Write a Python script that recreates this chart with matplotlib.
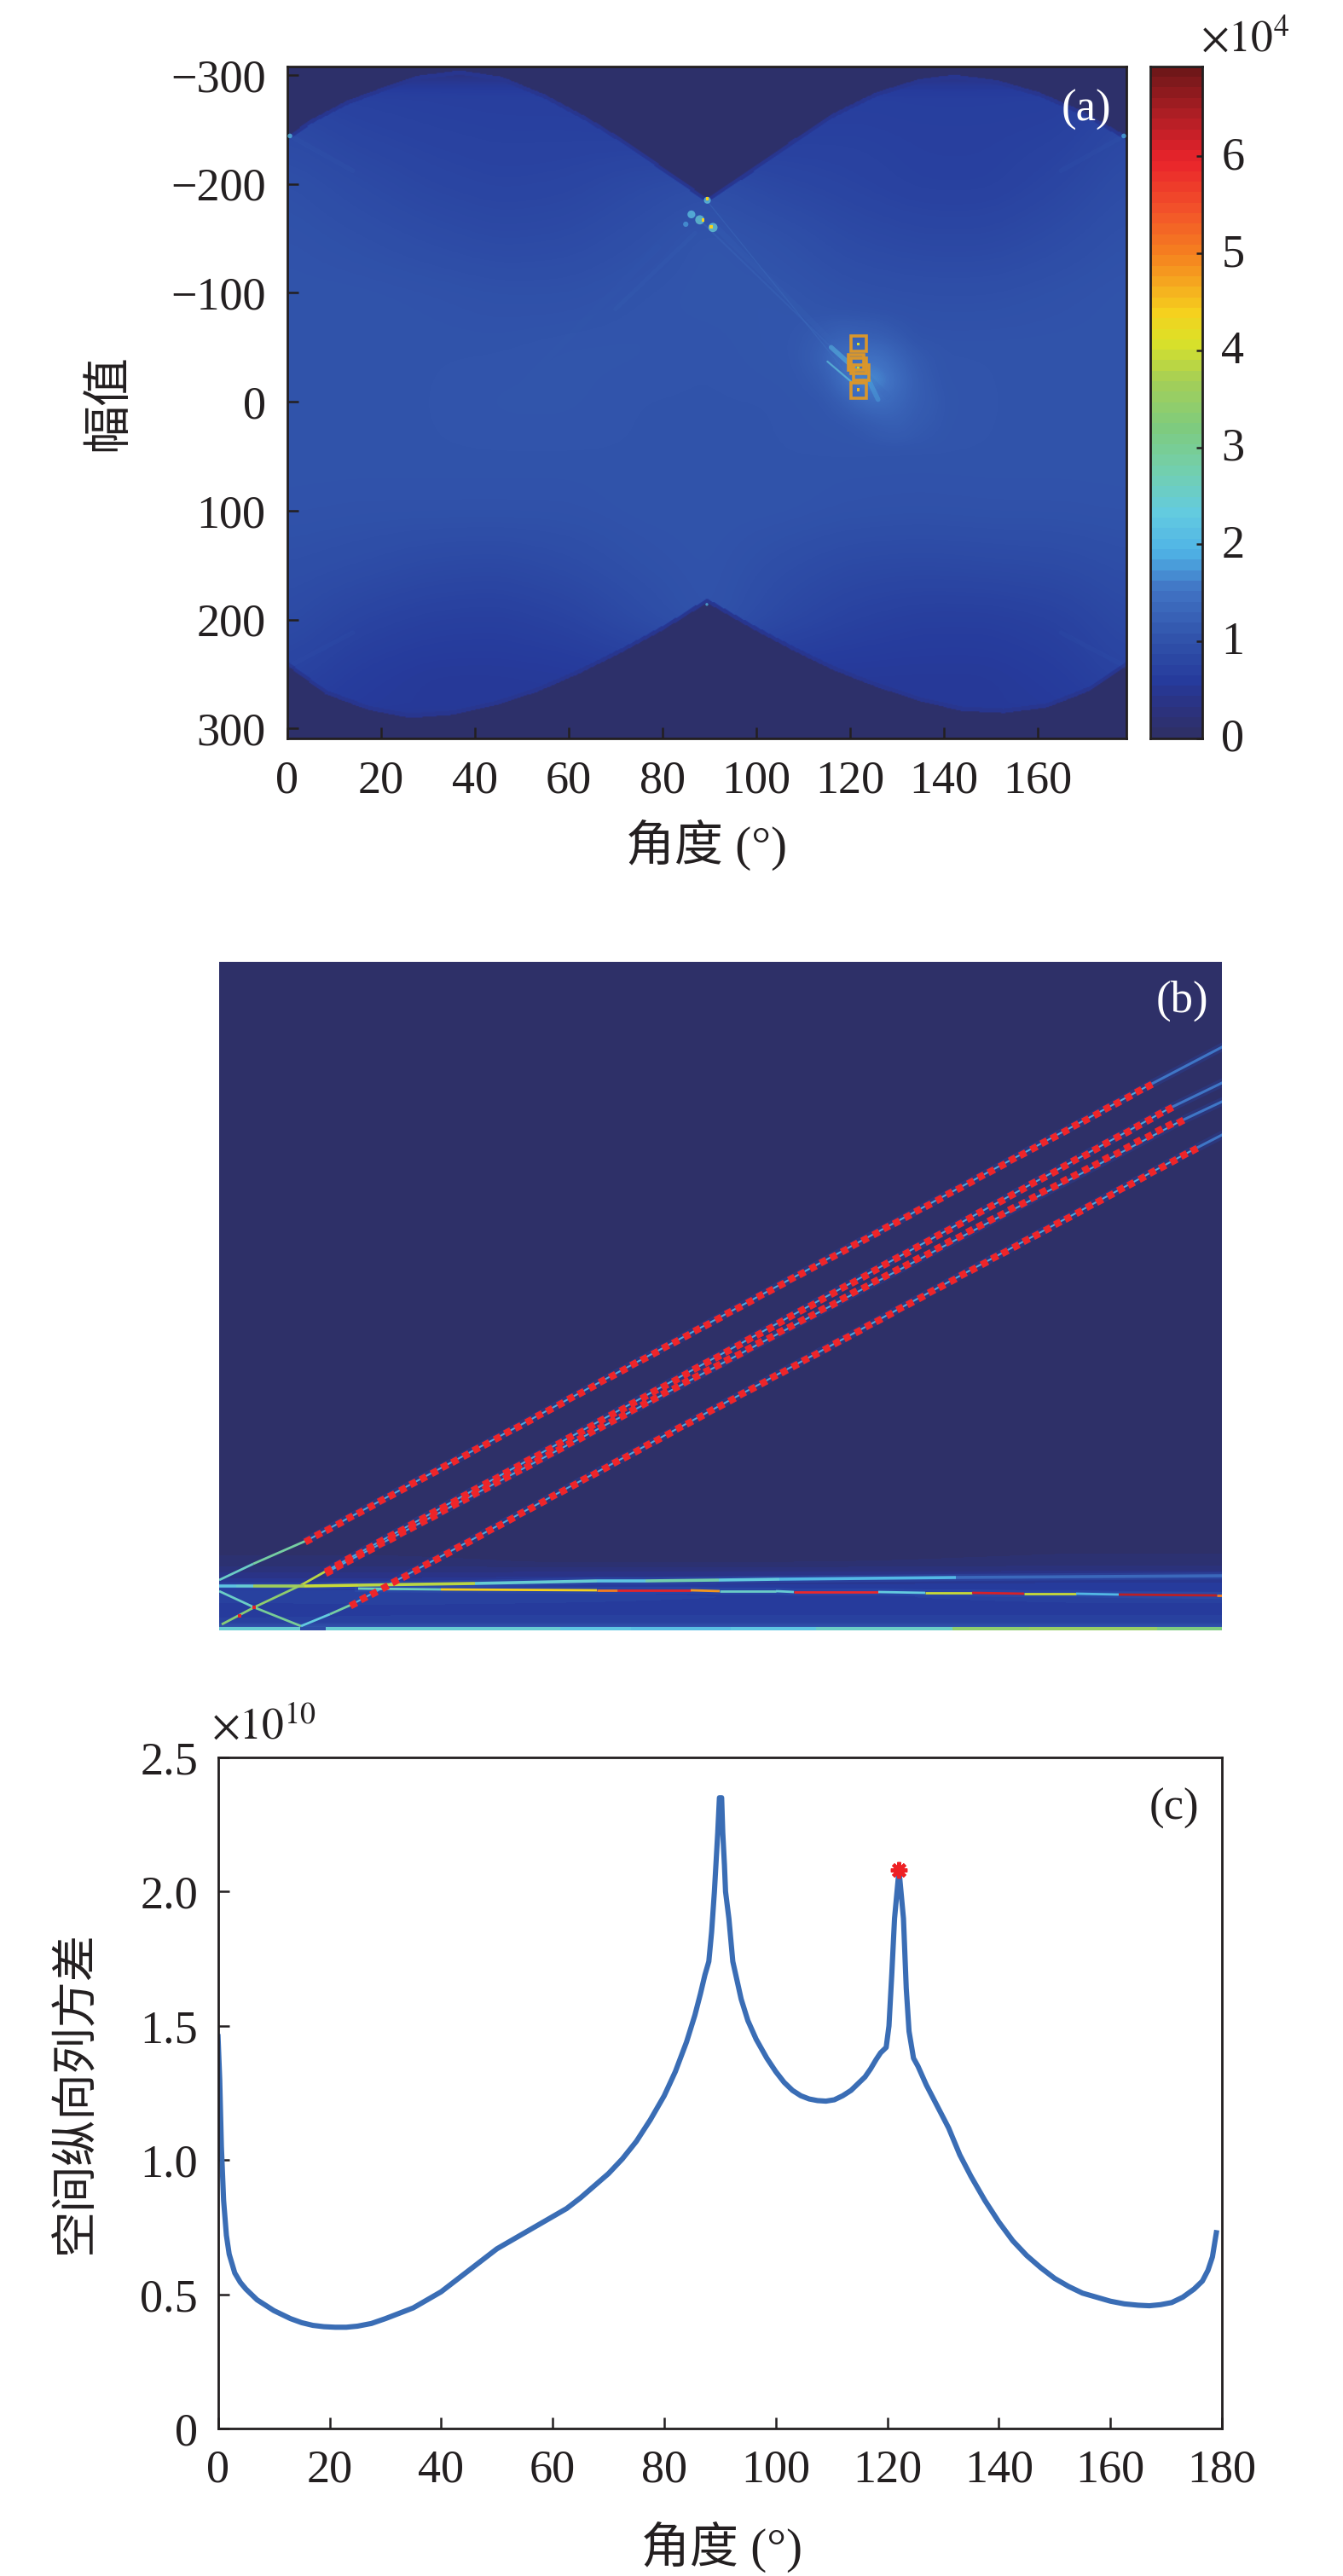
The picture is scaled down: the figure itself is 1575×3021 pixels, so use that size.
#! /usr/bin/python
# -*- coding: utf-8 -*-

import numpy as np
import matplotlib
matplotlib.use("Agg")
import matplotlib.pyplot as plt
from matplotlib.collections import LineCollection
from matplotlib.colors import LinearSegmentedColormap, Normalize
from matplotlib.transforms import ScaledTranslation

plt.rcParams['font.family'] = ['Liberation Serif', 'Noto Sans CJK SC']
plt.rcParams['mathtext.fontset'] = 'stix'

W, H = 1575, 3021
INK = "#231f20"

# colour scale, value (x1e4) against colour
scale_vals = [0, 0.3, 0.55, 1.0, 1.5, 1.9, 2.3, 2.8, 3.2, 3.7, 4.1, 4.4, 4.8, 5.0, 5.5, 6.0, 6.4, 6.93]
scale_cols = ["#2e3068", "#2b3383", "#263b9c", "#3154ab", "#4173c4", "#4fb3e6", "#63cbe0",
              "#74cfa8", "#7ecb7e", "#a6cf55", "#dbe128", "#f5d11e", "#f59c1f", "#f5821f",
              "#f2502a", "#e9232b", "#b81f26", "#701719"]

# panel a: coarse reading of the map
a_deg = [0, 15, 30, 45, 60, 75, 90, 105, 120, 135, 150, 165, 179]
a_val = [-300, -250, -200, -150, -100, -50, 0, 50, 100, 150, 200, 250, 300]
a_grid = [
    [.62, .62, .62, .62, .62, .62, .50, .60, .60, .60, .60, .60, .60],
    [.82, .72, .68, .66, .66, .64, .50, .64, .66, .64, .64, .66, .80],
    [.93, .84, .76, .72, .74, .82, .90, .78, .72, .66, .66, .75, .88],
    [.98, .93, .87, .82, .84, .92, 1.03, .95, .83, .78, .78, .86, .95],
    [1.0, 1.0, .98, .95, .95, 1.0, 1.03, 1.03, .95, .92, .92, .96, 1.0],
    [1.0, 1.0, 1.0, 1.0, 1.02, 1.02, 1.0, 1.04, 1.08, 1.0, 1.0, 1.0, 1.0],
    [1.0, 1.0, 1.0, 1.02, 1.02, 1.0, 1.0, 1.0, 1.06, 1.04, 1.0, 1.0, 1.0],
    [1.0, 1.0, 1.0, 1.0, 1.0, 1.0, 1.0, 1.0, 1.0, 1.0, 1.0, 1.0, 1.0],
    [.98, .97, .97, .97, .97, 1.0, 1.0, 1.0, .97, .96, .97, .97, .98],
    [.92, .88, .82, .80, .86, .95, 1.0, .90, .82, .80, .82, .84, .90],
    [.85, .72, .65, .63, .70, .85, 1.0, .80, .68, .62, .62, .68, .82],
    [.72, .58, .52, .52, .53, .58, .50, .52, .52, .52, .52, .58, .72],
    [.52, .52, .52, .52, .52, .52, .50, .52, .52, .52, .52, .52, .52],
]
# glow right of the boxes
halo_deg = [108, 114, 118, 122, 126, 130, 134, 140]
halo_val = [-80, -60, -40, -20, 0, 20, 40]
halo_grid = [
    [0, .03, .05, .05, .05, 0, 0, 0],
    [0, .08, .18, .15, .15, .10, 0, 0],
    [0, .14, .38, .40, .42, .26, .10, 0],
    [0, .06, .30, .60, .62, .36, .14, 0],
    [0, 0, .10, .26, .36, .26, .12, .04],
    [0, 0, 0, .05, .12, .16, .08, .03],
    [0, 0, 0, 0, .04, .06, .04, 0],
]
# edges of the empty regions
top_deg = [0, 5, 12.5, 20, 27.6, 36.7, 45.7, 54.8, 63.8, 72.9, 80.4, 89.5, 98.5, 107.6, 116.7,
           125.7, 134.8, 142.3, 151.4, 160.4, 169.5, 179]
top_edge = [-245, -260, -277, -289, -300, -305, -299, -283, -262, -238, -215, -187.5, -213, -240.5,
            -266, -285, -297, -301, -296, -285, -268, -245]
bot_deg = [0, 8, 17, 26, 35.2, 44.2, 53.3, 62.3, 71.4, 80.4, 89.5, 98.5, 107.6, 116.7, 125.7,
           134.8, 143.8, 152.9, 162, 171, 179]
bot_edge = [243, 268.6, 283, 290.6, 287.6, 279, 266.4, 249.5, 230, 209, 184.6, 207, 228, 247, 262,
            275, 284, 286, 281, 266, 243]
# bright streaks: deg0, val0, deg1, val1, level, alpha, width
a_streaks = [
    (89.8, -183, 121.2, -16, 1.6, .28, 1.0),
    (86.5, -173, 118.2, -41, 1.5, .28, 1.5),
    (87, -155, 70, -85, 1.3, .16, 3.5),
    (79, -142, 49, -11, 1.2, .08, 6),
    (92, -158, 128, -5, 1.3, .18, 5),
    (116, -50, 121.2, -30, 2.1, .50, 4),
    (115.2, -37, 120.4, -18, 2.3, .65, 1.6),
    (124, -20, 126, -2, 1.9, .40, 4),
    (0.3, -245, 14, -212, 1.25, .14, 4),
    (0.3, 243, 14, 212, 1.2, .10, 4),
    (178.8, -245, 165, -212, 1.25, .12, 4),
    (178.8, 243, 165, 212, 1.2, .10, 4),
]
# soft glow round the hot pixels: deg, val, level, size
glow_deg = [89.6, 88.0, 86.2, 90.8, 85.0, 0.6, 178.4, 89.5]
glow_val = [-185, -167, -172, -160, -163, -244, -244, 186]
glow_lev = [2.3, 2.4, 2.2, 2.4, 1.8, 2.1, 1.9, 2.0]
glow_size = [34, 60, 44, 60, 20, 16, 16, 6]
# small hot pixels: deg, val, level
spot_deg = [89.6, 88.7, 90.4, 121.8, 121.8, 121.8]
spot_val = [-186.7, -166.7, -160.8, -53, -31, -11]
spot_lev = [4.4, 4.4, 4.4, 4.1, 3.8, 4.6]
box_deg = [121.8, 121.3, 121.8, 122.4, 121.8]
box_val = [-53, -36, -33, -27, -10.5]
a_xticks = [0, 20, 40, 60, 80, 100, 120, 140, 160]
a_yticks = [-300, -200, -100, 0, 100, 200, 300]
a_ylabels = ["\u2212300", "\u2212200", "\u2212100", "0", "100", "200", "300"]
cb_ticks = [0, 1, 2, 3, 4, 5, 6]

# panel b: background reading (pixels from the top left of the map)
b_cols = [0, 200, 400, 600, 800, 1000, 1176]
b_rows = [0, 640, 680, 705, 725, 745, 760, 775, 780, 784]
b_grid = [
    [0, 0, 0, 0, 0, 0, 0],
    [0, 0, 0, 0, 0, 0, 0],
    [.02, .02, .02, .02, .02, .05, .05],
    [.15, .15, .1, .1, .12, .15, .15],
    [.45, .45, .5, .5, .5, .5, .5],
    [.75, .75, .7, .65, .65, .7, .7],
    [.55, .6, .6, .6, .6, .6, .6],
    [.7, .7, .7, .7, .7, .7, .7],
    [1.0, 1.0, 1.0, 1.0, 1.0, 1.0, 1.0],
    [1.0, 1.0, 1.0, 1.0, 1.0, 1.0, 1.0],
]
# band along the lower edge
edge_x = [0, 80, 95, 110, 125, 200, 400, 483, 600, 700, 860, 950, 1100, 1176]
edge_level = [2.4, 2.4, .9, .9, 2.4, 2.4, 2.2, 2.1, 2.2, 2.5, 3.4, 3.5, 3.2]

# tracks under the markers
track1_x = [104, 1090, 1176]
track1_y = [678, 145, 100]
track2_x = [128, 1114, 1176]
track2_y = [713, 172, 142]
track3_x = [128, 1127, 1176]
track3_y = [715, 187, 164]
track4_x = [157, 1143, 1176]
track4_y = [753, 220, 203]
# short pieces at the lower left: x0, y0, x1, y1, level
low_pieces = [
    (0, 725, 40, 706, 2.5),
    (40, 706, 104, 678, 2.9),
    (3, 777, 41, 757, 3.3),
    (41, 757, 96, 731, 3.4),
    (96, 731, 128, 713, 3.8),
    (0, 738, 41, 757, 2.5),
    (41, 757, 96, 779, 3.0),
    (96, 779, 130, 765, 2.3),
    (130, 765, 157, 753, 2.9),
]
knot_x = [41, 96, 24]
knot_y = [757, 732, 767]
knot_level = [6.0, 6.3, 6.0]

# the two horizontal returns, level per stretch
upper_x = [0, 20, 40, 100, 163, 300, 443, 500, 586, 657, 864, 1176]
upper_y = [732, 732, 732, 732, 731, 729, 726, 726, 725, 724, 722, 720]
upper_level = [2.2, 2.4, 3.6, 4.0, 3.8, 2.4, 2.2, 2.8, 2.3, 2.0, 1.4]
lower_x = [163, 260, 443, 467, 553, 587, 653, 674, 773, 828, 883, 944, 1005, 1055, 1170, 1176]
lower_y = [735, 736, 737, 737, 737, 738, 738, 739, 739, 740, 740, 741, 741, 742, 743, 743]
lower_level = [2.6, 4.4, 5.0, 6.0, 4.8, 2.5, 2.4, 5.9, 2.3, 4.0, 6.1, 4.0, 2.0, 6.3, 5.0]
# marker tracks
m1_x = [104, 116, 128, 141, 153, 165, 178, 190, 202, 215, 227, 239, 252, 264, 276, 289, 301, 313,
        326, 338, 350, 363, 375, 387, 400, 412, 424, 437, 449, 461, 474, 486, 498, 511, 523, 535,
        548, 560, 572, 585, 597, 609, 622, 634, 646, 659, 671, 683, 696, 708, 720, 733, 745, 757,
        770, 782, 794, 807, 819, 831, 844, 856, 868, 881, 893, 905, 918, 930, 942, 955, 967, 979,
        992, 1004, 1016, 1029, 1041, 1053, 1066, 1078, 1090]
m1_y = [678, 671, 665, 658, 651, 645, 638, 631, 625, 618, 611, 605, 598, 591, 585, 578, 571, 565,
        558, 551, 545, 538, 531, 525, 518, 511, 505, 498, 491, 485, 478, 471, 465, 458, 451, 445,
        438, 431, 425, 418, 411, 405, 398, 391, 385, 378, 371, 365, 358, 351, 345, 338, 331, 325,
        318, 311, 305, 298, 291, 285, 278, 271, 265, 258, 251, 245, 238, 231, 225, 218, 211, 205,
        198, 191, 185, 178, 171, 165, 158, 151, 145]
m2_x = [128, 140, 152, 165, 177, 189, 202, 214, 226, 239, 251, 263, 276, 288, 300, 313, 325, 337,
        350, 362, 374, 387, 399, 411, 424, 436, 448, 461, 473, 485, 498, 510, 522, 535, 547, 559,
        572, 584, 596, 609, 621, 633, 646, 658, 670, 683, 695, 707, 720, 732, 744, 757, 769, 781,
        794, 806, 818, 831, 843, 855, 868, 880, 892, 905, 917, 929, 942, 954, 966, 979, 991, 1003,
        1016, 1028, 1040, 1053, 1065, 1077, 1090, 1102, 1114]
m2_y = [713, 706, 699, 693, 686, 679, 672, 666, 659, 652, 645, 639, 632, 625, 618, 611, 605, 598,
        591, 584, 578, 571, 564, 557, 551, 544, 537, 530, 524, 517, 510, 503, 497, 490, 483, 476,
        469, 463, 456, 449, 442, 436, 429, 422, 415, 408, 402, 395, 388, 381, 375, 368, 361, 354,
        347, 341, 334, 327, 320, 314, 307, 300, 293, 286, 280, 273, 266, 259, 253, 246, 239, 232,
        226, 219, 212, 205, 199, 192, 185, 178, 172]
m3_x = [128, 140, 152, 165, 177, 189, 202, 214, 226, 239, 251, 263, 276, 288, 300, 313, 325, 337,
        350, 362, 374, 387, 399, 411, 424, 436, 448, 461, 473, 485, 498, 510, 522, 535, 547, 559,
        572, 584, 596, 609, 621, 633, 646, 658, 670, 683, 695, 707, 720, 732, 744, 757, 769, 781,
        794, 806, 818, 831, 843, 855, 868, 880, 892, 905, 917, 929, 942, 954, 966, 979, 991, 1003,
        1016, 1028, 1040, 1053, 1065, 1077, 1090, 1102, 1114, 1127]
m3_y = [715, 708, 702, 695, 689, 682, 676, 669, 663, 656, 650, 643, 636, 630, 623, 617, 610, 604,
        597, 591, 584, 577, 571, 564, 558, 551, 545, 538, 532, 525, 518, 512, 505, 499, 492, 486,
        479, 473, 466, 460, 453, 446, 440, 433, 427, 420, 414, 407, 401, 394, 387, 381, 374, 368,
        361, 355, 348, 342, 335, 328, 322, 315, 309, 302, 296, 289, 283, 276, 269, 263, 256, 250,
        243, 237, 230, 224, 217, 210, 204, 197, 191, 187]
m4_x = [157, 169, 181, 194, 206, 218, 231, 243, 255, 268, 280, 292, 305, 317, 329, 342, 354, 366,
        379, 391, 403, 416, 428, 440, 453, 465, 477, 490, 502, 514, 527, 539, 551, 564, 576, 588,
        601, 613, 625, 638, 650, 662, 675, 687, 699, 712, 724, 736, 749, 761, 773, 786, 798, 810,
        823, 835, 847, 860, 872, 884, 897, 909, 921, 934, 946, 958, 971, 983, 995, 1008, 1020, 1032,
        1045, 1057, 1069, 1082, 1094, 1106, 1119, 1131, 1143]
m4_y = [753, 746, 740, 733, 726, 720, 713, 706, 700, 693, 686, 680, 673, 666, 660, 653, 646, 640,
        633, 626, 620, 613, 606, 600, 593, 586, 580, 573, 566, 560, 553, 546, 540, 533, 526, 520,
        513, 506, 500, 493, 486, 480, 473, 466, 460, 453, 446, 440, 433, 426, 420, 413, 406, 400,
        393, 386, 380, 373, 366, 360, 353, 346, 340, 333, 326, 320, 313, 306, 300, 293, 286, 280,
        273, 266, 260, 253, 246, 240, 233, 226, 220]

# panel c
c_deg = [0, .3, .6, 1, 1.5, 2, 3, 4, 5, 6, 7, 8.5, 10, 11.5, 13, 15, 17, 19, 21, 23, 25, 27.5, 30,
         32.5, 35, 37.5, 40, 42.5, 45, 47.5, 50, 52.5, 55, 57.5, 60, 62.5, 65, 67.5, 70, 72.5, 75,
         77.5, 80, 82, 84, 85.5, 86.5, 87.3, 88, 88.5, 89, 89.3, 89.6, 89.9, 90.3, 90.5, 90.8, 91,
         91.6, 92.3, 93.8, 95, 96.5, 98.4, 100, 101.5, 103, 104.5, 106, 107.5, 109, 110.5, 112,
         113.5, 115, 116, 117, 118, 118.8, 119.8, 120.3, 120.8, 121.3, 122.1, 122.9, 123.4, 123.9,
         124.7, 125.5, 127, 129, 131, 133, 135, 137.5, 140, 142.5, 145, 147.5, 150, 152.5, 155,
         157.5, 160, 162.5, 165, 167, 169, 171, 173, 175, 176.5, 177.5, 178.3, 179]
c_var = [1.46, 1.3, 1.05, .85, .72, .65, .58, .545, .52, .5, .48, .46, .44, .425, .41, .395, .385,
         .38, .378, .378, .382, .392, .41, .43, .45, .48, .51, .55, .59, .63, .67, .70, .73, .76,
         .79, .82, .86, .905, .95, 1.005, 1.07, 1.15, 1.24, 1.33, 1.44, 1.54, 1.62, 1.69, 1.74,
         1.85, 2.0, 2.11, 2.22, 2.35, 2.35, 2.22, 2.1, 2.0, 1.9, 1.74, 1.6, 1.52, 1.45, 1.38, 1.33,
         1.29, 1.26, 1.24, 1.228, 1.222, 1.22, 1.225, 1.24, 1.26, 1.29, 1.31, 1.34, 1.375, 1.4,
         1.42, 1.5, 1.69, 1.9, 2.08, 1.9, 1.64, 1.48, 1.38, 1.35, 1.28, 1.2, 1.12, 1.02, .94, .85,
         .77, .70, .645, .6, .56, .53, .505, .49, .475, .465, .46, .458, .462, .47, .49, .52, .55,
         .59, .64, .73]
peak_deg = [122.1]
peak_var = [2.08]
c_xticks = [0, 20, 40, 60, 80, 100, 120, 140, 160, 180]
c_yticks = [0, 0.5, 1.0, 1.5, 2.0, 2.5]
c_ylabels = ["0", "0.5", "1.0", "1.5", "2.0", "2.5"]

stops = [(v / 6.93, c) for v, c in zip(scale_vals, scale_cols)]
cmap = LinearSegmentedColormap.from_list("bar", stops, N=64)
cmap_fine = LinearSegmentedColormap.from_list("bar_fine", stops, N=512)
norm = Normalize(0, 6.93)


def px_axes(fig, x0, y0, x1, y1):
  return fig.add_axes([x0 / W, 1 - y1 / H, (x1 - x0) / W, (y1 - y0) / H])


def px_text(fig, x, y, s, **kw):
  return fig.text(x / W, 1 - y / H, s, **kw)


def resample(grid, xs, ys, gx, gy):
  grid = np.asarray(grid, float)
  rows = np.array([np.interp(gx, xs, r, left=0, right=0) for r in grid])
  return np.array([np.interp(gy, ys, rows[:, j], left=0, right=0) for j in range(len(gx))]).T


def soften(img, nx, ny):
  # box blur, twice, so the coarse grid does not show
  for _ in range(2):
    pad = np.pad(img, ((ny, ny), (nx, nx)), mode="edge")
    pad = np.apply_along_axis(lambda r: np.convolve(r, np.ones(2 * nx + 1) / (2 * nx + 1), "same"), 1, pad)
    pad = np.apply_along_axis(lambda r: np.convolve(r, np.ones(2 * ny + 1) / (2 * ny + 1), "same"), 0, pad)
    img = pad[ny:-ny, nx:-nx]
  return img


def style_axes(ax, size=39):
  for s in ax.spines.values():
    s.set_linewidth(2.0)
    s.set_color(INK)
  ax.tick_params(direction="in", length=9.5, width=1.8, color=INK, labelcolor=INK,
                 labelsize=size, pad=17)


def draw_a(fig):
  ax = px_axes(fig, 336.7, 77.7, 1320.7, 865.7)
  gx = np.linspace(0, 179, 540)
  gy = np.linspace(-308, 309, 640)
  img = soften(resample(a_grid, a_deg, a_val, gx, gy), 12, 12)
  img += soften(resample(halo_grid, halo_deg, halo_val, gx, gy), 5, 5)
  top = np.interp(gx, top_deg, top_edge)
  bot = np.interp(gx, bot_deg, bot_edge)
  # thin darker rim just inside the empty regions
  img[(gy[:, None] < top[None, :] + 4) | (gy[:, None] > bot[None, :] - 4)] = 0.42
  img[(gy[:, None] < top[None, :]) | (gy[:, None] > bot[None, :])] = 0.03
  ax.imshow(img, cmap=cmap_fine, norm=norm, extent=[0, 179, 309, -308], aspect="auto",
            interpolation="bilinear", interpolation_stage="data", zorder=1)
  for d0, v0, d1, v1, lev, al, lw in a_streaks:
    ax.plot([d0, d1], [v0, v1], color=cmap(norm(lev)), alpha=al, lw=lw, solid_capstyle="round", zorder=2)
  ax.scatter(glow_deg, glow_val, c=glow_lev, cmap=cmap, norm=norm, s=glow_size, alpha=0.75, linewidths=0, zorder=3)
  ax.scatter(spot_deg, spot_val, c=spot_lev, cmap=cmap, norm=norm, s=7, marker="s", linewidths=0, zorder=3)
  ax.plot(box_deg, box_val, ls="none", marker="s", ms=12.5, mfc="none", mec="#d9962c", mew=2.6, zorder=4)
  ax.set_xlim(0, 178.9)
  ax.set_ylim(308.8, -308)
  ax.set_xticks(a_xticks)
  ax.set_yticks(a_yticks)
  ax.set_yticklabels(a_ylabels)
  style_axes(ax)
  ax.tick_params(axis="x", pad=18)
  ax.tick_params(axis="y", pad=18)
  ax.text(0.952, 0.935, "(a)", transform=ax.transAxes, color="white", fontsize=38, ha="center", va="center")

  cb = px_axes(fig, 1349, 77.7, 1410, 865.7)
  levels = np.linspace(0, 6.93, 65)
  cb.pcolormesh([0, 1], levels, ((levels[:-1] + levels[1:]) / 2)[:, None], cmap=cmap, norm=norm)
  cb.set_xticks([])
  cb.yaxis.tick_right()
  cb.set_yticks(cb_ticks)
  style_axes(cb)
  cb.tick_params(axis="y", length=5, pad=16)
  shift = ScaledTranslation(0, 4 / 100, fig.dpi_scale_trans)
  for lab in cb.get_yticklabels():
    lab.set_transform(lab.get_transform() + shift)

  px_text(fig, 1408, 48, r"$\times 10^{4}$", fontsize=37, color=INK, ha="left", va="center")
  px_text(fig, 828, 992, "角度 (°)", fontsize=41, color=INK, ha="center", va="center")
  px_text(fig, 128, 472, "幅值", fontsize=41, color=INK, ha="center", va="center", rotation=90)


def draw_b(fig):
  ax = px_axes(fig, 257, 1128, 1433, 1912)
  gx = np.linspace(0, 1176, 392)
  gy = np.linspace(0, 784, 392)
  img = resample(b_grid, b_cols, b_rows, gx, gy)
  ax.imshow(img, cmap=cmap, norm=norm, extent=[0, 1176, 784, 0], aspect="auto",
            interpolation="bilinear", interpolation_stage="data", zorder=1)
  ax.pcolormesh(edge_x, [780, 784], np.array([edge_level]), cmap=cmap, norm=norm, zorder=2)

  for tx, ty in [(track1_x, track1_y), (track2_x, track2_y), (track3_x, track3_y), (track4_x, track4_y)]:
    ax.plot(tx, ty, color="#2a45a8", alpha=0.30, lw=7, zorder=3)
    ax.plot(tx[:2], ty[:2], color="#4ea6dc", lw=1.5, zorder=4)
    ax.plot(tx[1:], ty[1:], color="#3f76c6", lw=2.2, zorder=4)

  segs = [[(p[0], p[1]), (p[2], p[3])] for p in low_pieces]
  levs = np.array([p[4] for p in low_pieces])
  ax.add_collection(LineCollection(segs, colors=cmap(norm(levs)), linewidths=2.0, zorder=4))
  ax.scatter(knot_x, knot_y, c=knot_level, cmap=cmap, norm=norm, s=12, marker="s", linewidths=0, zorder=5)

  for xs, ys, lev, lw in [(upper_x, upper_y, upper_level, 2.6), (lower_x, lower_y, lower_level, 2.0)]:
    segs = [[(xs[i], ys[i]), (xs[i + 1], ys[i + 1])] for i in range(len(xs) - 1)]
    ax.add_collection(LineCollection(segs, colors=cmap(norm(np.array(lev))), linewidths=lw, zorder=5))
    ax.plot(xs, ys, color="#2f56b4", alpha=0.35, lw=6, zorder=3)

  # square sides face along the track, as in the source
  for mx, my in [(m1_x, m1_y), (m2_x, m2_y), (m3_x, m3_y), (m4_x, m4_y)]:
    ax.plot(mx, my, ls="none", marker=(4, 0, -17), ms=8.4, mfc="#ee2529", mec="none", zorder=6)
  ax.set_xlim(0, 1176)
  ax.set_ylim(784, 0)
  ax.set_xticks([])
  ax.set_yticks([])
  for s in ax.spines.values():
    s.set_visible(False)
  ax.text(1129, 46, "(b)", color="white", fontsize=38, ha="center", va="center", zorder=7)


def draw_c(fig):
  ax = px_axes(fig, 255.7, 2061, 1433, 2848.3)
  ax.plot(c_deg, c_var, color="#3a6db5", lw=4.4, solid_joinstyle="round", zorder=2)
  ax.plot(peak_deg, peak_var, ls="none", marker=(8, 2, 0), ms=14, mec="#ee2024", mew=3, zorder=3)
  ax.set_xlim(0, 180)
  ax.set_ylim(0, 2.5)
  ax.set_xticks(c_xticks)
  ax.set_yticks(c_yticks)
  ax.set_yticklabels(c_ylabels)
  style_axes(ax)
  ax.text(0.952, 0.924, "(c)", transform=ax.transAxes, color=INK, fontsize=38, ha="center", va="center")
  px_text(fig, 248, 2027, r"$\times 10^{10}$", fontsize=37, color=INK, ha="left", va="center")
  px_text(fig, 846, 2988, "角度 (°)", fontsize=41, color=INK, ha="center", va="center")
  px_text(fig, 90, 2454, "空间纵向列方差", fontsize=39, color=INK, ha="center", va="center", rotation=90)


if __name__ == "__main__":
  fig = plt.figure(figsize=(W / 100, H / 100), dpi=100, facecolor="white")
  draw_a(fig)
  draw_b(fig)
  draw_c(fig)
  fig.savefig("out.png", dpi=100)
